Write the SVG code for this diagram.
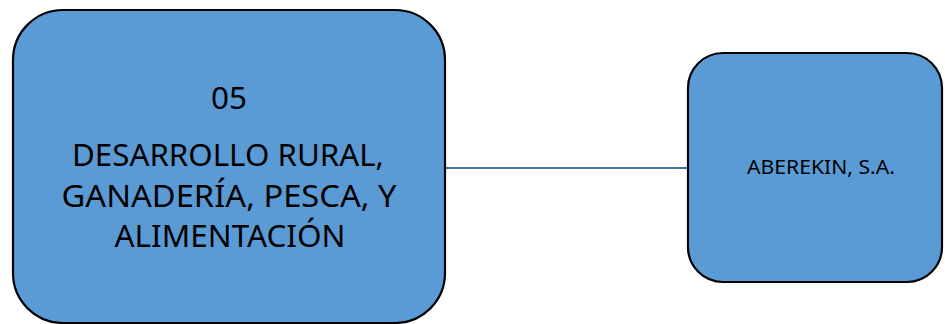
<svg xmlns="http://www.w3.org/2000/svg" width="945" height="324" viewBox="0 0 945 324">
<style>
.box{fill:#5B9BD5;stroke:#000;stroke-width:2.2}
.t{font-family:"Noto Sans","Open Sans",sans-serif;fill:#000;text-anchor:middle}
.big{font-size:31px}
.small{font-size:19.5px}
.conn{stroke:#41719C;stroke-width:2;fill:none}
</style>
<rect width="945" height="324" fill="#fff"/>
<g id="connectors">
<line class="conn" x1="445" y1="168" x2="688" y2="168"/>
</g>
<g id="node-05">
<rect class="box" x="13" y="10" width="432" height="313" rx="50" ry="50"/>
<text class="t big" x="229" y="109" textLength="36" lengthAdjust="spacingAndGlyphs">05</text>
<text class="t big" x="228" y="166" textLength="312" lengthAdjust="spacingAndGlyphs">DESARROLLO RURAL,</text>
<text class="t big" x="229" y="207" textLength="335" lengthAdjust="spacingAndGlyphs">GANADERÍA, PESCA, Y</text>
<text class="t big" x="230" y="247" textLength="231" lengthAdjust="spacingAndGlyphs">ALIMENTACIÓN</text>
</g>
<g id="node-aberekin">
<rect class="box" x="688" y="53" width="254" height="229" rx="35" ry="35"/>
<text class="t small" x="821" y="174" textLength="148" lengthAdjust="spacingAndGlyphs">ABEREKIN, S.A.</text>
</g>
</svg>
